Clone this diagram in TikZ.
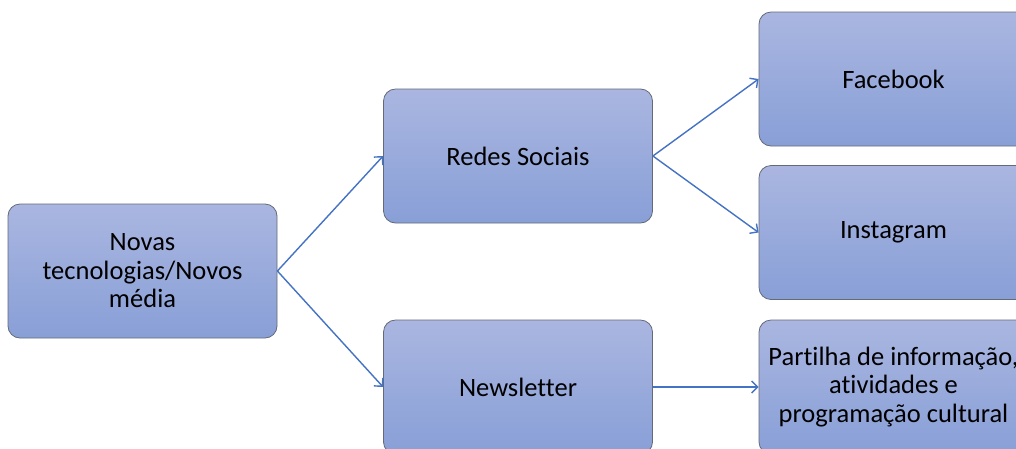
\documentclass[tikz,border=0pt]{standalone}
\usepackage{fontspec}
\setmainfont{Carlito}[Ligatures={NoCommon}]
\usetikzlibrary{arrows.meta}
\definecolor{boxtop}{RGB}{170,182,224}
\definecolor{boxbot}{RGB}{136,159,215}
\definecolor{boxline}{RGB}{100,106,120}
\definecolor{conncol}{RGB}{68,114,196}
\tikzset{
  smartbox/.style={rectangle, rounded corners=12pt, draw=boxline, line width=0.8pt,
    top color=boxtop, bottom color=boxbot, minimum width=269pt, minimum height=134pt,
    inner sep=0pt, align=center, font=\fontsize{26.5}{28.5}\selectfont, text=black},
  conn/.style={draw=conncol, line width=1.4pt, -{Straight Barb[length=6pt,width=12pt]}}
}
\begin{document}
\begin{tikzpicture}[x=1pt,y=-1pt]
\useasboundingbox (0,0) rectangle (1016,448);
\clip (0,0) rectangle (1016,448);
\node[smartbox] (nov) at (142.5,271) {Novas\\tecnologias/Novos\\média};
\node[smartbox] (red) at (518,156) {Redes Sociais};
\node[smartbox] (new) at (518,387) {Newsletter};
\node[smartbox] (fac) at (893.5,79) {Facebook};
\node[smartbox] (ins) at (893.5,232.5) {Instagram};
\node[smartbox] (par) at (893.5,387) {Partilha de informação,\\atividades e\\programação cultural};
\draw[conn] (nov.east) -- (red.west);
\draw[conn] (nov.east) -- (new.west);
\draw[conn] (red.east) -- (fac.west);
\draw[conn] (red.east) -- (ins.west);
\draw[conn] (new.east) -- (par.west);
\end{tikzpicture}
\end{document}
